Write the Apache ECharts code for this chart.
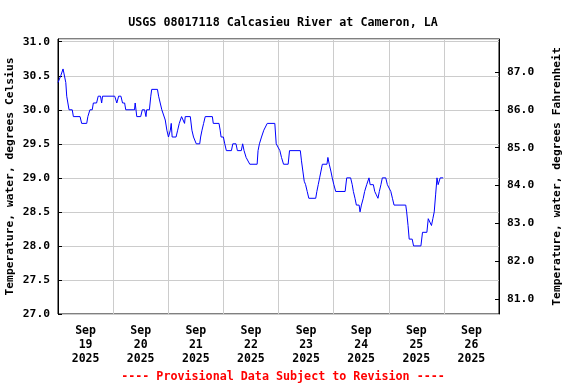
<!DOCTYPE html>
<html>
<head>
<meta charset="utf-8">
<script src="https://cdn.jsdelivr.net/npm/echarts@6/dist/echarts.min.js"></script>
<style>html,body{margin:0;padding:0;background:#fff;}#c{width:576px;height:384px;}</style>
</head>
<body>
<div id="c"></div>
<script>
var titleText = 'USGS 08017118 Calcasieu River at Cameron, LA';
var footerText = '---- Provisional Data Subject to Revision ----';
var leftName = 'Temperature, water, degrees Celsius';
var rightName = 'Temperature, water, degrees Fahrenheit';
var dayLabels = ['Sep\n19\n2025','Sep\n20\n2025','Sep\n21\n2025','Sep\n22\n2025','Sep\n23\n2025','Sep\n24\n2025','Sep\n25\n2025','Sep\n26\n2025'];
// hours since 2025-09-19 00:00
var hours = [0.0,0.4,1.2,2.2,2.9,3.4,3.8,4.3,4.8,6.2,6.7,9.6,10.3,12.5,13.0,13.9,14.9,15.4,16.8,17.5,18.5,19.0,19.4,24.7,25.6,26.4,27.4,28.1,29.0,29.5,33.3,33.6,34.3,36.0,36.7,37.7,38.3,38.6,39.8,40.4,40.8,43.3,43.8,44.5,45.2,46.7,47.4,48.1,48.9,49.3,49.7,51.4,52.1,52.8,53.8,54.5,55.1,55.4,57.6,58.3,59.0,59.8,60.2,61.7,62.1,62.7,63.4,64.1,67.2,67.6,70.1,70.6,71.0,72.0,72.6,73.3,75.5,76.1,77.5,78.1,79.8,80.4,81.0,81.9,83.5,86.7,87.1,87.7,88.6,89.6,91.1,94.4,95.0,96.6,97.3,98.2,100.2,100.8,105.5,106.0,106.6,107.2,107.8,108.5,109.2,112.2,112.7,113.3,113.9,114.5,115.1,117.1,117.5,118.1,118.8,119.4,120.1,120.9,125.0,125.7,127.4,128.1,128.6,129.3,129.9,131.1,131.5,132.1,132.9,133.5,134.4,135.4,135.9,137.3,137.9,138.6,139.3,139.9,140.6,141.2,142.7,143.4,144.9,145.6,146.3,151.4,151.8,152.4,152.9,154.2,154.8,158.0,158.7,160.6,161.2,161.9,162.6,163.2,163.8,164.4,165.0,165.5,166.4,167.7];
var tempC = [30.4,30.4,30.5,30.6,30.6,30.4,30.2,30.1,30.0,30.0,29.9,29.9,29.8,29.8,29.9,30.0,30.0,30.1,30.1,30.2,30.2,30.1,30.2,30.2,30.1,30.2,30.2,30.1,30.1,30.0,30.0,30.1,29.9,29.9,30.0,30.0,29.9,30.0,30.0,30.2,30.3,30.3,30.2,30.1,30.0,29.85,29.7,29.6,29.7,29.8,29.6,29.6,29.7,29.8,29.9,29.9,29.8,29.9,29.9,29.7,29.6,29.6,29.5,29.5,29.6,29.7,29.8,29.9,29.9,29.8,29.8,29.7,29.6,29.6,29.5,29.4,29.4,29.5,29.5,29.4,29.4,29.5,29.4,29.3,29.2,29.2,29.4,29.5,29.6,29.7,29.8,29.8,29.5,29.4,29.3,29.2,29.2,29.4,29.4,29.25,29.1,28.95,28.9,28.8,28.7,28.7,28.8,28.9,29.0,29.1,29.2,29.2,29.3,29.2,29.1,29.0,28.9,28.8,28.8,29.0,29.0,28.9,28.8,28.7,28.6,28.6,28.5,28.6,28.7,28.8,28.9,29.0,28.9,28.9,28.8,28.75,28.7,28.8,28.9,29.0,29.0,28.9,28.8,28.7,28.6,28.6,28.5,28.3,28.1,28.1,28.0,28.0,28.2,28.2,28.4,28.4,28.3,28.4,28.5,28.75,29.0,28.9,29.0,29.0];

var FONT = 'DejaVu Sans Mono';
var cMin = 27, cMax = 31.04;
var seriesData = hours.map(function (h, i) { return [h, tempC[i]]; });

var chart = echarts.init(document.getElementById('c'), null, {renderer: 'canvas'});
chart.setOption({
  animation: false,
  backgroundColor: '#ffffff',
  textStyle: {fontFamily: FONT, fontWeight: 'bold', color: '#000'},
  title: [{
    text: titleText, left: 278, top: 12, textAlign: 'center',
    textStyle: {fontFamily: FONT, fontWeight: 'bold', fontSize: 11.7, color: '#000'}
  }, {
    text: footerText, left: 278, top: 366, textAlign: 'center',
    textStyle: {fontFamily: FONT, fontWeight: 'bold', fontSize: 11.7, color: '#ff0000'}
  }],
  grid: {left: 58, top: 39, right: 77, bottom: 70, containLabel: false, outerBoundsMode: 'none',
    show: true, borderColor: '#000', borderWidth: 1, backgroundColor: 'transparent'},
  xAxis: [{
    type: 'value', min: 0, max: 192, interval: 24,
    axisLine: {show: false}, axisTick: {show: false}, axisLabel: {show: false},
    splitLine: {show: true, lineStyle: {color: '#cccccc', width: 1}}
  }, {
    type: 'category', data: dayLabels, boundaryGap: true, position: 'bottom',
    axisLine: {show: false}, axisTick: {show: false}, splitLine: {show: false},
    axisLabel: {margin: 10, lineHeight: 14, fontFamily: FONT, fontWeight: 'bold', fontSize: 11.5, color: '#000', align: 'center'}
  }],
  yAxis: [{
    type: 'value', min: cMin, max: cMax, interval: 0.5, position: 'left',
    name: leftName, nameLocation: 'middle', nameRotate: 90, nameGap: 42, nameMoveOverlap: false,
    nameTextStyle: {fontFamily: FONT, fontWeight: 'bold', fontSize: 11.3, color: '#000'},
    axisLine: {show: true, lineStyle: {color: '#000'}},
    axisTick: {show: true, inside: true, length: 4, lineStyle: {color: '#000'}},
    axisLabel: {margin: 8, showMaxLabel: false, fontFamily: FONT, fontWeight: 'bold', fontSize: 11.3, color: '#000',
      formatter: function (v) { return v.toFixed(1); }},
    splitLine: {show: true, lineStyle: {color: '#cccccc', width: 1}}
  }, {
    type: 'value', min: cMin * 1.8 + 32, max: cMax * 1.8 + 32, position: 'right',
    splitNumber: 7, minInterval: 1, maxInterval: 1,
    name: rightName, nameLocation: 'middle', nameRotate: 90, nameGap: 53,
    nameTextStyle: {fontFamily: FONT, fontWeight: 'bold', fontSize: 11.3, color: '#000'},
    axisLine: {show: true, lineStyle: {color: '#000'}},
    axisTick: {show: true, inside: true, length: 4, lineStyle: {color: '#000'}},
    axisLabel: {margin: 8, showMinLabel: false, showMaxLabel: false, fontFamily: FONT, fontWeight: 'bold', fontSize: 11.3, color: '#000',
      formatter: function (v) { return Math.abs(v - Math.round(v)) < 1e-6 ? v.toFixed(1) : ''; }},
    splitLine: {show: false}
  }],
  series: [{
    type: 'line', xAxisIndex: 0, yAxisIndex: 0, data: seriesData,
    showSymbol: false, symbol: 'none',
    lineStyle: {color: '#0000ff', width: 1}, itemStyle: {color: '#0000ff'}
  }]
});
</script>
</body>
</html>
